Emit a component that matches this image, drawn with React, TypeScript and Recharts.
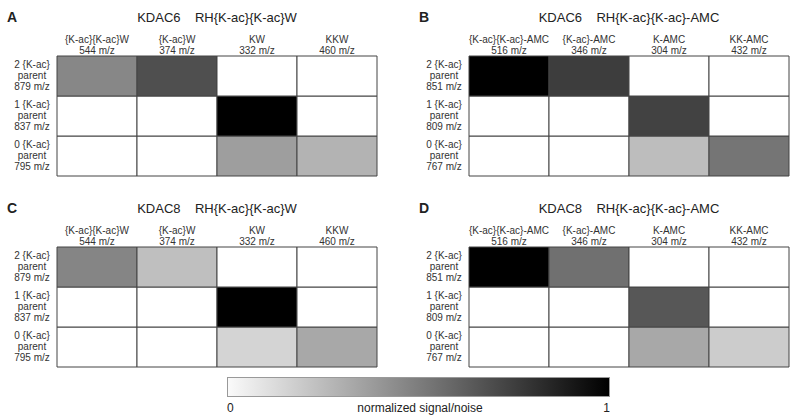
import React from 'react'
import { Bar, BarChart, Cell, XAxis, YAxis } from 'recharts'

// column (product) labels and m/z
const colsW = ['{K-ac}{K-ac}W', '{K-ac}W', 'KW', 'KKW']
const mzW = [544, 374, 332, 460]
const colsAMC = ['{K-ac}{K-ac}-AMC', '{K-ac}-AMC', 'K-AMC', 'KK-AMC']
const mzAMC = [516, 346, 304, 432]

// row (parent) labels, top to bottom
const rowLabels = ['2 {K-ac}', '1 {K-ac}', '0 {K-ac}']
const parentW = [879, 837, 795]
const parentAMC = [851, 809, 767]

// normalized signal/noise, rows top to bottom, columns left to right
const kdac6W = [
  [0.47, 0.69, 0, 0],
  [0, 0, 1, 0],
  [0, 0, 0.38, 0.3],
]
const kdac6AMC = [
  [1, 0.76, 0, 0],
  [0, 0, 0.74, 0],
  [0, 0, 0.26, 0.54],
]
const kdac8W = [
  [0.48, 0.25, 0, 0],
  [0, 0, 1, 0],
  [0, 0, 0.17, 0.34],
]
const kdac8AMC = [
  [1, 0.56, 0, 0],
  [0, 0, 0.66, 0],
  [0, 0, 0.34, 0.2],
]

const FONT = '"Liberation Sans", Arial, Helvetica, sans-serif'

const grey = (v: number) => {
  const g = Math.round(255 * (1 - v))
  return `rgb(${g},${g},${g})`
}

interface PanelProps {
  letter: string
  enzyme: string
  substrate: string
  cols: string[]
  mz: number[]
  parents: number[]
  values: number[][]
  left: number
  top: number
}

const Panel = ({ letter, enzyme, substrate, cols, mz, parents, values, left, top }: PanelProps) => {
  // one stacked bar per column, three equal segments = three rows (bottom row first)
  const data = cols.map((c) => ({ col: c, r0: 1, r1: 1, r2: 1 }))

  const ColTick = (props: any) => {
    const { x, y, payload } = props
    return (
      <g>
        <text x={x} y={y - 13} textAnchor="middle" fontSize={10} fill="#333" fontFamily={FONT}>
          {payload.value}
        </text>
        <text x={x} y={y - 2} textAnchor="middle" fontSize={10} fill="#333" fontFamily={FONT}>
          {`${mz[payload.index]} m/z`}
        </text>
      </g>
    )
  }

  const RowTick = (props: any) => {
    const { x, y, payload } = props
    const row = 2 - Math.floor(payload.value)
    const cx = x - 25
    return (
      <g fontSize={10} fill="#333" fontFamily={FONT} textAnchor="middle">
        <text x={cx} y={y - 8}>{rowLabels[row]}</text>
        <text x={cx} y={y + 3}>parent</text>
        <text x={cx} y={y + 14}>{`${parents[row]} m/z`}</text>
      </g>
    )
  }

  return (
    <div style={{ position: 'absolute', left, top, width: 400, height: 190 }}>
      <div
        style={{
          position: 'absolute',
          left: 7,
          top: 9,
          fontSize: 14,
          fontWeight: 'bold',
          fontFamily: FONT,
          color: '#222',
        }}
      >
        {letter}
      </div>
      <div
        style={{
          position: 'absolute',
          left: 57,
          width: 320,
          top: 10,
          textAlign: 'center',
          fontSize: 13,
          fontFamily: FONT,
          color: '#222',
          whiteSpace: 'pre',
        }}
      >
        {`${enzyme}    ${substrate}`}
      </div>
      <BarChart
        width={400}
        height={190}
        data={data}
        margin={{ top: 0, right: 23, bottom: 14, left: 0 }}
        barCategoryGap={0}
        barGap={0}
      >
        <XAxis
          dataKey="col"
          orientation="top"
          height={56}
          interval={0}
          tickSize={0}
          tickMargin={0}
          axisLine={false}
          tickLine={false}
          tick={ColTick}
        />
        <YAxis
          type="number"
          domain={[0, 3]}
          ticks={[0.5, 1.5, 2.5]}
          width={57}
          tickSize={0}
          tickMargin={0}
          axisLine={false}
          tickLine={false}
          tick={RowTick}
        />
        {['r0', 'r1', 'r2'].map((key, k) => (
          <Bar key={key} dataKey={key} stackId="grid" stroke="#444" strokeWidth={1} isAnimationActive={false}>
            {cols.map((c, j) => (
              <Cell key={c} fill={grey(values[2 - k][j])} />
            ))}
          </Bar>
        ))}
      </BarChart>
    </div>
  )
}

const App = () => {
  return (
    <div
      style={{
        position: 'absolute',
        left: 0,
        top: 0,
        width: 800,
        height: 420,
        background: '#fff',
        fontFamily: FONT,
      }}
    >
      <Panel letter="A" enzyme="KDAC6" substrate="RH{K-ac}{K-ac}W" cols={colsW} mz={mzW} parents={parentW} values={kdac6W} left={0} top={0} />
      <Panel letter="B" enzyme="KDAC6" substrate="RH{K-ac}{K-ac}-AMC" cols={colsAMC} mz={mzAMC} parents={parentAMC} values={kdac6AMC} left={412} top={0} />
      <Panel letter="C" enzyme="KDAC8" substrate="RH{K-ac}{K-ac}W" cols={colsW} mz={mzW} parents={parentW} values={kdac8W} left={0} top={191} />
      <Panel letter="D" enzyme="KDAC8" substrate="RH{K-ac}{K-ac}-AMC" cols={colsAMC} mz={mzAMC} parents={parentAMC} values={kdac8AMC} left={412} top={191} />

      {/* colour scale */}
      <div
        style={{
          position: 'absolute',
          left: 227,
          top: 377,
          width: 381,
          height: 18,
          border: '1px solid #999',
          background: 'linear-gradient(to right, #fafafa, #000)',
        }}
      />
      <div style={{ position: 'absolute', left: 227, top: 401, fontSize: 12, color: '#222' }}>0</div>
      <div style={{ position: 'absolute', left: 300, width: 240, top: 401, fontSize: 12, color: '#222', textAlign: 'center' }}>
        normalized signal/noise
      </div>
      <div style={{ position: 'absolute', left: 560, width: 50, top: 401, fontSize: 12, color: '#222', textAlign: 'right' }}>1</div>
    </div>
  )
}

export default App
